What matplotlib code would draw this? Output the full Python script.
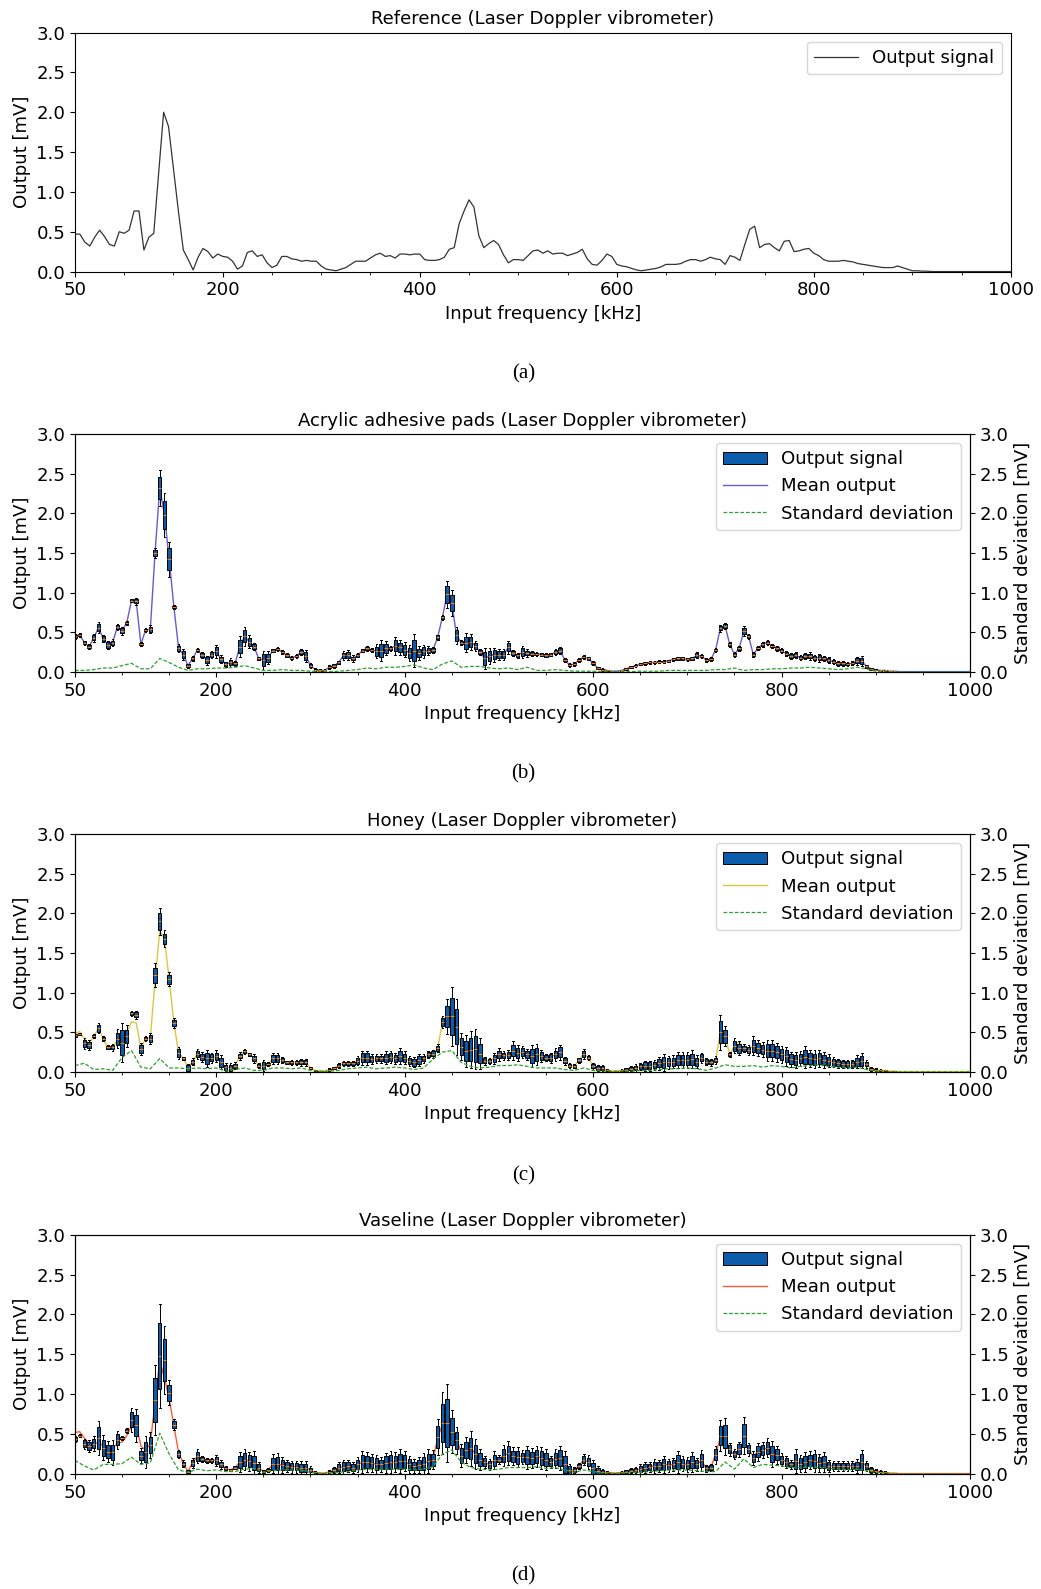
import numpy as np
import matplotlib
matplotlib.use('Agg')
import matplotlib.pyplot as plt
from matplotlib.patches import Patch
from matplotlib.lines import Line2D
from matplotlib.ticker import FixedLocator, MultipleLocator

# frequency grids [kHz]
freq = np.arange(50, 1001, 5)
box_freq = np.arange(50, 921, 5)
std_freq = np.arange(50, 1001, 10)

# (a) reference, output [mV] every 5 kHz
ref_out = [
    0.47, 0.47, 0.37, 0.32, 0.43, 0.52, 0.44, 0.34, 0.32, 0.50,
    0.48, 0.52, 0.76, 0.76, 0.27, 0.43, 0.48, 1.24, 2.00, 1.82,
    1.29, 0.76, 0.27, 0.15, 0.02, 0.18, 0.29, 0.25, 0.17, 0.22,
    0.19, 0.18, 0.13, 0.03, 0.07, 0.24, 0.26, 0.19, 0.21, 0.11,
    0.05, 0.08, 0.19, 0.19, 0.16, 0.15, 0.13, 0.14, 0.13, 0.13,
    0.07, 0.03, 0.02, 0.01, 0.03, 0.05, 0.09, 0.13, 0.13, 0.13,
    0.17, 0.21, 0.23, 0.19, 0.20, 0.17, 0.22, 0.22, 0.21, 0.22,
    0.22, 0.15, 0.14, 0.14, 0.15, 0.18, 0.28, 0.30, 0.60, 0.76,
    0.90, 0.81, 0.45, 0.30, 0.35, 0.39, 0.34, 0.21, 0.11, 0.15,
    0.15, 0.14, 0.20, 0.26, 0.27, 0.23, 0.26, 0.22, 0.23, 0.23,
    0.20, 0.22, 0.24, 0.28, 0.16, 0.09, 0.08, 0.14, 0.22, 0.19,
    0.09, 0.07, 0.06, 0.04, 0.02, 0.01, 0.02, 0.03, 0.04, 0.06,
    0.09, 0.09, 0.09, 0.10, 0.13, 0.15, 0.15, 0.13, 0.15, 0.18,
    0.16, 0.15, 0.09, 0.20, 0.18, 0.14, 0.34, 0.53, 0.57, 0.30,
    0.34, 0.35, 0.30, 0.26, 0.38, 0.39, 0.25, 0.26, 0.28, 0.29,
    0.23, 0.20, 0.15, 0.13, 0.13, 0.13, 0.14, 0.13, 0.12, 0.10,
    0.09, 0.08, 0.07, 0.06, 0.05, 0.05, 0.05, 0.07, 0.05, 0.03,
    0.01, 0.01, 0.005, 0.005, 0.0, 0.0, 0.0, 0.0, 0.0, 0.0,
    0.0, 0.0, 0.0, 0.0, 0.0, 0.0, 0.0, 0.0, 0.0, 0.0,
    0.0,
]

# (b) acrylic adhesive pads
acr_mean = [
    0.45, 0.47, 0.37, 0.32, 0.43, 0.56, 0.42, 0.34, 0.37, 0.57,
    0.52, 0.62, 0.90, 0.89, 0.35, 0.53, 0.54, 1.50, 2.32, 1.98,
    1.42, 0.82, 0.30, 0.22, 0.08, 0.17, 0.28, 0.21, 0.15, 0.22,
    0.26, 0.16, 0.10, 0.12, 0.11, 0.32, 0.45, 0.38, 0.32, 0.17,
    0.15, 0.18, 0.27, 0.29, 0.25, 0.21, 0.18, 0.20, 0.25, 0.20,
    0.08, 0.03, 0.02, 0.02, 0.06, 0.08, 0.12, 0.21, 0.21, 0.17,
    0.21, 0.27, 0.30, 0.28, 0.26, 0.27, 0.30, 0.30, 0.33, 0.31,
    0.28, 0.24, 0.27, 0.24, 0.26, 0.27, 0.28, 0.44, 0.69, 0.98,
    0.87, 0.46, 0.37, 0.37, 0.38, 0.33, 0.25, 0.17, 0.20, 0.22,
    0.22, 0.22, 0.31, 0.24, 0.21, 0.25, 0.24, 0.23, 0.23, 0.22,
    0.21, 0.22, 0.25, 0.27, 0.15, 0.09, 0.10, 0.15, 0.19, 0.17,
    0.11, 0.05, 0.03, 0.02, 0.01, 0.01, 0.02, 0.04, 0.06, 0.08,
    0.10, 0.11, 0.12, 0.12, 0.13, 0.13, 0.14, 0.16, 0.17, 0.17,
    0.16, 0.17, 0.21, 0.20, 0.15, 0.16, 0.28, 0.55, 0.58, 0.35,
    0.22, 0.30, 0.52, 0.45, 0.22, 0.30, 0.35, 0.37, 0.33, 0.30,
    0.27, 0.23, 0.20, 0.21, 0.18, 0.20, 0.20, 0.18, 0.18, 0.17,
    0.15, 0.13, 0.11, 0.11, 0.10, 0.11, 0.14, 0.14, 0.07, 0.04,
    0.03, 0.02, 0.02, 0.01, 0.01, 0.005, 0.005, 0.005, 0.005, 0.005,
    0.005, 0.005, 0.005, 0.005, 0.005, 0.005, 0.005, 0.005, 0.005, 0.005,
    0.005,
]
acr_mid = acr_mean[:len(box_freq)]
acr_box = [
    0.04, 0.03, 0.03, 0.04, 0.06, 0.08, 0.06, 0.07, 0.05, 0.05,
    0.06, 0.03, 0.03, 0.05, 0.03, 0.03, 0.06, 0.08, 0.28, 0.35,
    0.28, 0.03, 0.06, 0.08, 0.03, 0.04, 0.03, 0.05, 0.07, 0.06,
    0.10, 0.06, 0.04, 0.07, 0.04, 0.16, 0.15, 0.10, 0.06, 0.03,
    0.15, 0.10, 0.03, 0.03, 0.03, 0.03, 0.03, 0.03, 0.05, 0.10,
    0.04, 0.02, 0.02, 0.02, 0.03, 0.03, 0.03, 0.07, 0.08, 0.05,
    0.03, 0.03, 0.04, 0.03, 0.11, 0.16, 0.11, 0.04, 0.14, 0.12,
    0.12, 0.13, 0.26, 0.11, 0.10, 0.07, 0.05, 0.04, 0.04, 0.21,
    0.21, 0.13, 0.04, 0.15, 0.13, 0.08, 0.05, 0.17, 0.13, 0.11,
    0.09, 0.09, 0.10, 0.05, 0.04, 0.10, 0.06, 0.04, 0.03, 0.03,
    0.03, 0.03, 0.05, 0.06, 0.03, 0.03, 0.03, 0.03, 0.03, 0.03,
    0.03, 0.02, 0.02, 0.01, 0.01, 0.01, 0.01, 0.02, 0.02, 0.02,
    0.02, 0.02, 0.02, 0.02, 0.02, 0.02, 0.02, 0.02, 0.03, 0.03,
    0.02, 0.03, 0.05, 0.03, 0.03, 0.03, 0.03, 0.05, 0.05, 0.04,
    0.04, 0.04, 0.08, 0.04, 0.04, 0.03, 0.04, 0.04, 0.03, 0.04,
    0.04, 0.04, 0.05, 0.05, 0.04, 0.05, 0.06, 0.05, 0.06, 0.04,
    0.05, 0.04, 0.04, 0.04, 0.03, 0.03, 0.06, 0.08, 0.03, 0.02,
    0.01, 0.01, 0.01, 0.01, 0.01,
]
acr_std = [
    0.02, 0.02, 0.03, 0.05, 0.05, 0.08, 0.11, 0.04, 0.04, 0.17,
    0.12, 0.06, 0.02, 0.04, 0.04, 0.05, 0.05, 0.06, 0.08, 0.05,
    0.02, 0.02, 0.03, 0.02, 0.02, 0.01, 0.005, 0.005, 0.01, 0.02,
    0.03, 0.05, 0.04, 0.06, 0.06, 0.07, 0.09, 0.05, 0.03, 0.10,
    0.14, 0.06, 0.07, 0.07, 0.05, 0.04, 0.05, 0.03, 0.06, 0.02,
    0.02, 0.03, 0.02, 0.01, 0.01, 0.01, 0.005, 0.005, 0.005, 0.005,
    0.01, 0.01, 0.01, 0.02, 0.02, 0.02, 0.02, 0.02, 0.03, 0.03,
    0.05, 0.02, 0.03, 0.03, 0.04, 0.04, 0.05, 0.05, 0.06, 0.05,
    0.04, 0.03, 0.04, 0.06, 0.04, 0.01, 0.0, 0.0, 0.0, 0.0,
    0.0, 0.0, 0.0, 0.0, 0.0, 0.0,
]

# (c) honey
hon_mid = [
    0.46, 0.48, 0.36, 0.34, 0.45, 0.55, 0.42, 0.31, 0.31, 0.42,
    0.37, 0.45, 0.74, 0.72, 0.29, 0.42, 0.42, 1.22, 1.90, 1.68,
    1.17, 0.62, 0.24, 0.17, 0.05, 0.13, 0.23, 0.19, 0.17, 0.18,
    0.20, 0.12, 0.06, 0.05, 0.08, 0.20, 0.26, 0.22, 0.17, 0.08,
    0.08, 0.10, 0.17, 0.17, 0.15, 0.12, 0.12, 0.12, 0.12, 0.12,
    0.05, 0.02, 0.01, 0.01, 0.03, 0.05, 0.08, 0.11, 0.11, 0.11,
    0.14, 0.18, 0.18, 0.16, 0.17, 0.17, 0.18, 0.19, 0.17, 0.20,
    0.18, 0.14, 0.12, 0.15, 0.17, 0.22, 0.23, 0.30, 0.63, 0.70,
    0.70, 0.57, 0.32, 0.26, 0.28, 0.29, 0.23, 0.14, 0.14, 0.17,
    0.22, 0.21, 0.21, 0.27, 0.24, 0.25, 0.22, 0.20, 0.22, 0.20,
    0.18, 0.18, 0.22, 0.25, 0.14, 0.08, 0.07, 0.15, 0.23, 0.18,
    0.07, 0.05, 0.05, 0.02, 0.01, 0.01, 0.02, 0.03, 0.04, 0.05,
    0.07, 0.08, 0.08, 0.09, 0.11, 0.12, 0.12, 0.13, 0.15, 0.15,
    0.15, 0.16, 0.13, 0.18, 0.13, 0.12, 0.15, 0.50, 0.45, 0.22,
    0.33, 0.30, 0.30, 0.28, 0.33, 0.30, 0.28, 0.27, 0.27, 0.25,
    0.22, 0.20, 0.16, 0.15, 0.17, 0.19, 0.17, 0.16, 0.17, 0.15,
    0.14, 0.12, 0.11, 0.10, 0.10, 0.10, 0.13, 0.14, 0.10, 0.04,
    0.03, 0.02, 0.02, 0.01, 0.01,
]
hon_mean = [
    0.48, 0.51, 0.42, 0.35, 0.45, 0.55, 0.42, 0.31, 0.31, 0.40,
    0.38, 0.50, 0.63, 0.62, 0.30, 0.42, 0.43, 1.15, 1.78, 1.68,
    1.17, 0.62, 0.24, 0.17, 0.05, 0.13, 0.23, 0.19, 0.17, 0.18,
    0.20, 0.12, 0.06, 0.05, 0.08, 0.20, 0.26, 0.22, 0.17, 0.08,
    0.08, 0.10, 0.17, 0.17, 0.15, 0.12, 0.12, 0.12, 0.12, 0.12,
    0.05, 0.02, 0.01, 0.01, 0.03, 0.05, 0.08, 0.11, 0.11, 0.11,
    0.14, 0.18, 0.18, 0.16, 0.17, 0.17, 0.18, 0.19, 0.17, 0.20,
    0.18, 0.14, 0.12, 0.15, 0.17, 0.22, 0.23, 0.30, 0.62, 0.72,
    0.76, 0.55, 0.32, 0.26, 0.30, 0.30, 0.25, 0.14, 0.14, 0.17,
    0.22, 0.21, 0.21, 0.27, 0.24, 0.25, 0.22, 0.20, 0.22, 0.20,
    0.18, 0.18, 0.22, 0.25, 0.14, 0.08, 0.07, 0.15, 0.23, 0.18,
    0.07, 0.05, 0.05, 0.02, 0.01, 0.01, 0.02, 0.03, 0.04, 0.05,
    0.07, 0.08, 0.08, 0.09, 0.11, 0.12, 0.12, 0.13, 0.15, 0.15,
    0.15, 0.16, 0.13, 0.18, 0.13, 0.12, 0.15, 0.50, 0.45, 0.22,
    0.33, 0.38, 0.30, 0.29, 0.33, 0.30, 0.28, 0.27, 0.27, 0.25,
    0.22, 0.20, 0.16, 0.15, 0.17, 0.19, 0.17, 0.16, 0.17, 0.15,
    0.14, 0.12, 0.11, 0.10, 0.10, 0.10, 0.13, 0.14, 0.10, 0.04,
    0.03, 0.02, 0.02, 0.01, 0.01, 0.005, 0.005, 0.005, 0.005, 0.005,
    0.005, 0.005, 0.005, 0.005, 0.005, 0.005, 0.005, 0.005, 0.005, 0.005,
    0.005,
]
hon_box = [
    0.03, 0.02, 0.09, 0.08, 0.03, 0.08, 0.04, 0.03, 0.05, 0.15,
    0.31, 0.17, 0.04, 0.06, 0.09, 0.04, 0.09, 0.19, 0.21, 0.13,
    0.11, 0.08, 0.10, 0.03, 0.07, 0.05, 0.08, 0.08, 0.13, 0.08,
    0.09, 0.11, 0.06, 0.08, 0.05, 0.06, 0.04, 0.03, 0.07, 0.04,
    0.09, 0.03, 0.08, 0.09, 0.05, 0.03, 0.04, 0.04, 0.05, 0.05,
    0.02, 0.01, 0.01, 0.01, 0.02, 0.02, 0.04, 0.04, 0.04, 0.04,
    0.07, 0.11, 0.11, 0.08, 0.07, 0.07, 0.10, 0.10, 0.08, 0.13,
    0.10, 0.08, 0.08, 0.10, 0.07, 0.06, 0.06, 0.06, 0.10, 0.27,
    0.46, 0.44, 0.21, 0.25, 0.29, 0.32, 0.24, 0.06, 0.05, 0.08,
    0.10, 0.07, 0.08, 0.15, 0.12, 0.10, 0.08, 0.17, 0.17, 0.10,
    0.06, 0.08, 0.10, 0.12, 0.06, 0.04, 0.03, 0.04, 0.08, 0.04,
    0.05, 0.04, 0.04, 0.02, 0.01, 0.01, 0.02, 0.03, 0.04, 0.06,
    0.06, 0.08, 0.08, 0.08, 0.10, 0.14, 0.10, 0.10, 0.12, 0.12,
    0.12, 0.14, 0.10, 0.08, 0.06, 0.05, 0.06, 0.28, 0.16, 0.04,
    0.12, 0.11, 0.06, 0.08, 0.15, 0.13, 0.12, 0.17, 0.17, 0.15,
    0.13, 0.15, 0.12, 0.12, 0.12, 0.17, 0.14, 0.14, 0.14, 0.12,
    0.10, 0.08, 0.07, 0.07, 0.07, 0.07, 0.10, 0.12, 0.06, 0.03,
    0.02, 0.02, 0.01, 0.01, 0.01,
]
hon_std = [
    0.08, 0.11, 0.03, 0.04, 0.02, 0.18, 0.27, 0.06, 0.04, 0.17,
    0.05, 0.05, 0.04, 0.05, 0.04, 0.05, 0.01, 0.03, 0.05, 0.02,
    0.02, 0.05, 0.05, 0.04, 0.05, 0.02, 0.01, 0.01, 0.02, 0.04,
    0.05, 0.06, 0.04, 0.05, 0.06, 0.05, 0.03, 0.05, 0.16, 0.25,
    0.27, 0.12, 0.07, 0.05, 0.06, 0.08, 0.08, 0.09, 0.07, 0.05,
    0.05, 0.05, 0.03, 0.02, 0.05, 0.02, 0.01, 0.01, 0.01, 0.01,
    0.02, 0.02, 0.03, 0.04, 0.04, 0.05, 0.04, 0.02, 0.05, 0.09,
    0.07, 0.07, 0.08, 0.06, 0.08, 0.07, 0.05, 0.07, 0.08, 0.09,
    0.07, 0.06, 0.05, 0.06, 0.03, 0.01, 0.0, 0.0, 0.0, 0.0,
    0.0, 0.0, 0.0, 0.0, 0.0, 0.0,
]

# (d) vaseline
vas_mid = [
    0.44, 0.48, 0.38, 0.35, 0.38, 0.45, 0.33, 0.28, 0.27, 0.43,
    0.45, 0.54, 0.68, 0.61, 0.23, 0.28, 0.36, 0.93, 1.48, 1.43,
    1.02, 0.62, 0.25, 0.13, 0.03, 0.14, 0.22, 0.19, 0.17, 0.17,
    0.17, 0.12, 0.07, 0.05, 0.08, 0.15, 0.18, 0.16, 0.14, 0.08,
    0.03, 0.05, 0.13, 0.13, 0.11, 0.10, 0.09, 0.09, 0.08, 0.08,
    0.05, 0.02, 0.01, 0.01, 0.03, 0.05, 0.08, 0.09, 0.10, 0.08,
    0.12, 0.15, 0.15, 0.14, 0.12, 0.12, 0.14, 0.15, 0.15, 0.16,
    0.16, 0.12, 0.10, 0.11, 0.13, 0.16, 0.18, 0.46, 0.64, 0.64,
    0.53, 0.42, 0.23, 0.30, 0.32, 0.25, 0.18, 0.15, 0.12, 0.17,
    0.18, 0.23, 0.26, 0.22, 0.21, 0.21, 0.21, 0.20, 0.22, 0.20,
    0.18, 0.15, 0.19, 0.20, 0.12, 0.05, 0.05, 0.10, 0.18, 0.15,
    0.07, 0.04, 0.03, 0.02, 0.01, 0.01, 0.02, 0.03, 0.04, 0.05,
    0.06, 0.08, 0.09, 0.10, 0.10, 0.12, 0.11, 0.12, 0.15, 0.13,
    0.12, 0.15, 0.12, 0.17, 0.07, 0.08, 0.24, 0.48, 0.47, 0.31,
    0.25, 0.31, 0.48, 0.31, 0.20, 0.28, 0.30, 0.33, 0.25, 0.24,
    0.18, 0.15, 0.12, 0.16, 0.13, 0.15, 0.17, 0.16, 0.14, 0.15,
    0.10, 0.10, 0.10, 0.10, 0.10, 0.10, 0.10, 0.15, 0.10, 0.05,
    0.04, 0.03, 0.02, 0.01, 0.01,
]
vas_mean = [
    0.52, 0.53, 0.45, 0.38, 0.37, 0.40, 0.35, 0.33, 0.32, 0.38,
    0.40, 0.48, 0.60, 0.62, 0.35, 0.30, 0.38, 0.90, 1.42, 1.20,
    0.95, 0.60, 0.27, 0.13, 0.03, 0.15, 0.22, 0.19, 0.17, 0.17,
    0.17, 0.12, 0.07, 0.05, 0.08, 0.15, 0.18, 0.16, 0.14, 0.08,
    0.03, 0.05, 0.12, 0.12, 0.11, 0.10, 0.09, 0.09, 0.08, 0.08,
    0.05, 0.02, 0.01, 0.01, 0.03, 0.05, 0.08, 0.09, 0.10, 0.08,
    0.12, 0.15, 0.15, 0.14, 0.12, 0.12, 0.14, 0.15, 0.15, 0.16,
    0.16, 0.12, 0.10, 0.11, 0.13, 0.16, 0.18, 0.45, 0.62, 0.65,
    0.55, 0.44, 0.27, 0.30, 0.33, 0.25, 0.18, 0.14, 0.12, 0.17,
    0.18, 0.23, 0.26, 0.22, 0.21, 0.23, 0.21, 0.20, 0.22, 0.20,
    0.18, 0.15, 0.20, 0.20, 0.12, 0.05, 0.05, 0.10, 0.18, 0.15,
    0.07, 0.04, 0.03, 0.02, 0.01, 0.01, 0.02, 0.03, 0.04, 0.05,
    0.06, 0.08, 0.09, 0.10, 0.10, 0.12, 0.11, 0.12, 0.15, 0.13,
    0.12, 0.15, 0.12, 0.17, 0.07, 0.08, 0.25, 0.45, 0.48, 0.30,
    0.24, 0.30, 0.42, 0.31, 0.22, 0.28, 0.30, 0.33, 0.25, 0.25,
    0.18, 0.15, 0.12, 0.15, 0.13, 0.15, 0.17, 0.16, 0.14, 0.15,
    0.10, 0.10, 0.10, 0.10, 0.10, 0.10, 0.10, 0.15, 0.10, 0.05,
    0.04, 0.03, 0.02, 0.01, 0.01, 0.005, 0.005, 0.005, 0.005, 0.005,
    0.005, 0.005, 0.005, 0.005, 0.005, 0.005, 0.005, 0.005, 0.005, 0.005,
    0.005,
]
vas_box = [
    0.05, 0.02, 0.08, 0.09, 0.12, 0.27, 0.20, 0.16, 0.19, 0.14,
    0.03, 0.04, 0.19, 0.26, 0.12, 0.25, 0.20, 0.55, 0.82, 0.53,
    0.20, 0.09, 0.07, 0.05, 0.03, 0.08, 0.11, 0.05, 0.04, 0.04,
    0.08, 0.07, 0.03, 0.02, 0.03, 0.15, 0.16, 0.15, 0.18, 0.09,
    0.03, 0.03, 0.15, 0.17, 0.13, 0.10, 0.09, 0.09, 0.10, 0.10,
    0.06, 0.02, 0.01, 0.01, 0.02, 0.04, 0.08, 0.11, 0.09, 0.08,
    0.12, 0.17, 0.15, 0.14, 0.15, 0.12, 0.16, 0.18, 0.16, 0.19,
    0.16, 0.13, 0.11, 0.13, 0.17, 0.19, 0.15, 0.28, 0.48, 0.61,
    0.34, 0.21, 0.18, 0.21, 0.27, 0.23, 0.17, 0.10, 0.09, 0.14,
    0.07, 0.17, 0.19, 0.14, 0.16, 0.11, 0.18, 0.16, 0.16, 0.18,
    0.17, 0.10, 0.15, 0.19, 0.21, 0.09, 0.04, 0.04, 0.08, 0.11,
    0.13, 0.07, 0.04, 0.02, 0.01, 0.01, 0.02, 0.03, 0.04, 0.04,
    0.08, 0.08, 0.08, 0.11, 0.10, 0.13, 0.10, 0.10, 0.18, 0.12,
    0.12, 0.15, 0.10, 0.16, 0.06, 0.06, 0.14, 0.24, 0.29, 0.10,
    0.08, 0.12, 0.29, 0.10, 0.11, 0.14, 0.12, 0.15, 0.20, 0.14,
    0.10, 0.10, 0.07, 0.19, 0.13, 0.16, 0.14, 0.17, 0.14, 0.15,
    0.09, 0.08, 0.08, 0.08, 0.08, 0.08, 0.11, 0.19, 0.08, 0.04,
    0.03, 0.02, 0.02, 0.01, 0.01,
]
vas_std = [
    0.17, 0.10, 0.05, 0.12, 0.12, 0.13, 0.21, 0.12, 0.14, 0.51,
    0.25, 0.05, 0.02, 0.06, 0.04, 0.05, 0.03, 0.03, 0.06, 0.07,
    0.02, 0.04, 0.05, 0.05, 0.05, 0.02, 0.01, 0.01, 0.02, 0.03,
    0.05, 0.06, 0.06, 0.06, 0.06, 0.06, 0.05, 0.06, 0.09, 0.25,
    0.30, 0.15, 0.08, 0.06, 0.05, 0.06, 0.08, 0.08, 0.08, 0.09,
    0.07, 0.08, 0.05, 0.02, 0.05, 0.03, 0.01, 0.01, 0.01, 0.02,
    0.02, 0.03, 0.04, 0.05, 0.05, 0.05, 0.04, 0.03, 0.03, 0.15,
    0.06, 0.19, 0.08, 0.12, 0.11, 0.10, 0.08, 0.08, 0.09, 0.08,
    0.07, 0.06, 0.05, 0.06, 0.04, 0.02, 0.01, 0.0, 0.0, 0.0,
    0.0, 0.0, 0.0, 0.0, 0.0, 0.0,
]

FS = 13.1
BOX_COLOR = '#0b5cab'
STD_COLOR = '#2ca02c'
xticks = [50, 200, 400, 600, 800, 1000]


def style_axis(ax, title):
    ax.set_xlim(50, 1000)
    ax.set_ylim(0, 3)
    ax.xaxis.set_major_locator(FixedLocator(xticks))
    ax.xaxis.set_minor_locator(FixedLocator([f for f in range(100, 1000, 50) if f not in xticks]))
    ax.yaxis.set_major_locator(MultipleLocator(0.5))
    ax.tick_params(labelsize=FS)
    ax.set_title(title, fontsize=FS)
    ax.set_xlabel('Input frequency [kHz]', fontsize=FS)
    ax.set_ylabel('Output [mV]', fontsize=FS)


def plot_box_panel(ax, title, mean, mid, height, std, mean_color):
    stats = []
    for m, h in zip(mid, height):
        q1 = max(m - h / 2, 0)
        q3 = m + h / 2
        stats.append(dict(med=m, q1=q1, q3=q3,
                          whislo=max(q1 - 0.3 * h, 0), whishi=q3 + 0.3 * h))
    ax.plot(freq, mean, color=mean_color, lw=1.0, zorder=1)
    ax.bxp(stats, positions=box_freq, widths=3.6, patch_artist=True,
           showfliers=False, manage_ticks=False,
           boxprops=dict(facecolor=BOX_COLOR, edgecolor='black', linewidth=0.7),
           medianprops=dict(color='tab:orange', linewidth=0.8),
           whiskerprops=dict(color='black', linewidth=0.7),
           capprops=dict(color='black', linewidth=0.7))
    style_axis(ax, title)

    ax2 = ax.twinx()
    ax2.plot(std_freq, std, ls=(0, (3, 1.5)), color=STD_COLOR, lw=0.9)
    ax2.set_ylim(0, 3)
    ax2.yaxis.set_major_locator(MultipleLocator(0.5))
    ax2.tick_params(labelsize=FS)
    ax2.set_ylabel('Standard deviation [mV]', fontsize=FS)

    handles = [Patch(facecolor=BOX_COLOR, edgecolor='black', linewidth=0.7),
               Line2D([], [], color=mean_color, lw=1.0),
               Line2D([], [], color=STD_COLOR, lw=0.9, ls=(0, (3, 1.5)))]
    ax2.legend(handles, ['Output signal', 'Mean output', 'Standard deviation'],
               loc='upper right', fontsize=FS, handlelength=2.4)


fig = plt.figure(figsize=(10.41, 15.89), dpi=100)

ax_a = fig.add_axes([0.072, 0.8291, 0.899, 0.1504])
ax_a.plot(freq, ref_out, color='#333333', lw=0.9, label='Output signal')
style_axis(ax_a, 'Reference (Laser Doppler vibrometer)')
ax_a.legend(loc='upper right', fontsize=FS, handlelength=2.4)

ax_b = fig.add_axes([0.072, 0.5771, 0.8598, 0.1498])
plot_box_panel(ax_b, 'Acrylic adhesive pads (Laser Doppler vibrometer)',
               acr_mean, acr_mid, acr_box, acr_std, '#6a5acd')

ax_c = fig.add_axes([0.072, 0.3254, 0.8598, 0.1497])
plot_box_panel(ax_c, 'Honey (Laser Doppler vibrometer)',
               hon_mean, hon_mid, hon_box, hon_std, '#d8c840')

ax_d = fig.add_axes([0.072, 0.0724, 0.8598, 0.1506])
plot_box_panel(ax_d, 'Vaseline (Laser Doppler vibrometer)',
               vas_mean, vas_mid, vas_box, vas_std, '#ff5a3c')

for y, lab in zip([0.7646, 0.5129, 0.2599, 0.0082], ['(a)', '(b)', '(c)', '(d)']):
    fig.text(0.503, y, lab, ha='center', va='center',
             fontsize=15, family='Liberation Serif')

fig.savefig('out.png', dpi=100)
